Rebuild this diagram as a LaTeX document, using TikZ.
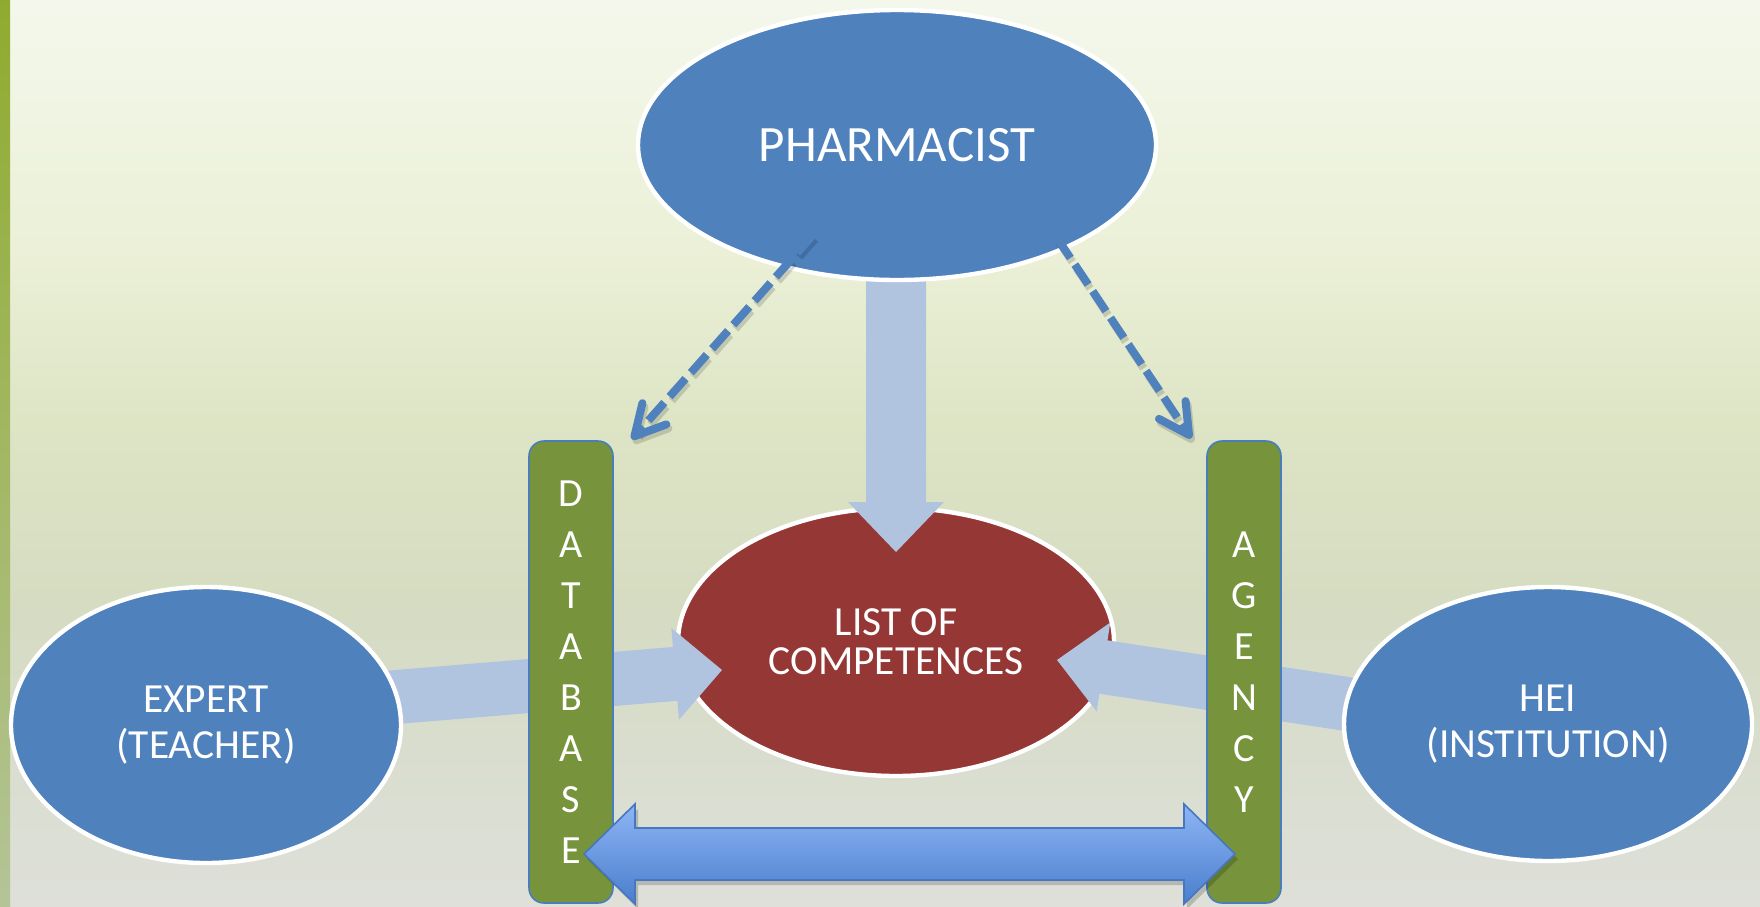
\documentclass[tikz,border=0pt]{standalone}
\usepackage{fontspec}
\setmainfont{Carlito}
\usetikzlibrary{shapes.geometric,arrows.meta,calc}
\definecolor{pblue}{HTML}{4F81BD}
\definecolor{lred}{HTML}{953735}
\definecolor{bargreen}{HTML}{77933C}
\definecolor{barline}{HTML}{4A7EBB}
\definecolor{lblue}{HTML}{B1C4DF}
\definecolor{dTop}{HTML}{8EB5F5}
\definecolor{dBot}{HTML}{4A7ECC}
\definecolor{dLine}{HTML}{4677C0}
\definecolor{bgA}{HTML}{F4F8EC}
\definecolor{bgB}{HTML}{EBF0D7}
\definecolor{bgC}{HTML}{DEE5C5}
\definecolor{bgD}{HTML}{D5DCC1}
\definecolor{bgE}{HTML}{D9DDCE}
\definecolor{bgF}{HTML}{DEE0D9}
\definecolor{stripTop}{HTML}{8FAB2F}
\definecolor{stripBot}{HTML}{B4C497}
\pgfdeclareverticalshading{bgshade}{100bp}{color(0bp)=(bgF); color(25bp)=(bgF); color(33.6bp)=(bgE); color(41.9bp)=(bgD); color(51.8bp)=(bgC); color(61.2bp)=(bgB); color(75bp)=(bgA); color(100bp)=(bgA)}
\pgfdeclarelayer{bgl}
\pgfdeclarelayer{listl}
\pgfdeclarelayer{arrl}
\pgfsetlayers{bgl,listl,arrl,main}
% fat arrow: #1 style, #2 tail, #3 tip, #4 half shaft, #5 half head, #6 head length
\newcommand\fatArrowPath[6]{%
  \coordinate (fatH) at ($(#3)!#6!(#2)$);
  \fill[#1] ($(#2)!#4!90:(#3)$) -- ($(fatH)!#4!90:(#3)$) -- ($(fatH)!#5!90:(#3)$) -- (#3)
    -- ($(fatH)!#5!-90:(#3)$) -- ($(fatH)!#4!-90:(#3)$) -- ($(#2)!#4!-90:(#3)$) -- cycle;}
\newcommand\dblArrowPath[2]{(#1) -- ([shift={(51,-50)}]#1) -- ([shift={(51,-26)}]#1) -- ([shift={(-51,-26)}]#2) -- ([shift={(-51,-50)}]#2) -- (#2) -- ([shift={(-51,50)}]#2) -- ([shift={(-51,26)}]#2) -- ([shift={(51,26)}]#1) -- ([shift={(51,50)}]#1) -- cycle}
\begin{document}
\begin{tikzpicture}[x=0.5pt,y=-0.5pt,
  bub/.style={ellipse, draw=white, line width=2.2pt, fill=pblue, inner sep=0pt, text=white, align=center},
  txt/.style={font=\fontsize{20.7}{23}\selectfont},
  barbox/.style={rectangle, rounded corners=7.5pt, draw=barline, line width=0.8pt, fill=bargreen, inner sep=0pt, text=white, align=center, font=\fontsize{20}{25.5}\selectfont},
  fatfill/.style={fill=lblue},
  dashl/.style={draw=pblue, line width=4pt, dash pattern=on 12pt off 4pt, -{Straight Barb[length=15pt,width=16pt,line cap=round,line join=round]}},
  dashshadow/.style={draw=black, opacity=0.15, line width=4pt, dash pattern=on 12pt off 4pt, -{Straight Barb[length=15pt,width=16pt,line cap=round,line join=round]}}
]
\useasboundingbox (0,0) rectangle (1760,906);
\begin{pgfonlayer}{bgl}
  \fill[shading=bgshade] (0,0) rectangle (1760,906);
  \fill[top color=stripTop, bottom color=stripBot] (0,0) rectangle (10,906);
\end{pgfonlayer}

\begin{pgfonlayer}{listl}
  \node[bub, fill=lred, minimum width=218pt, minimum height=134pt, font=\fontsize{20.7}{19.5}\selectfont] (list) at (896,642) {LIST OF\\COMPETENCES};
\end{pgfonlayer}

\node[bub, minimum width=259pt, minimum height=135pt, font=\fontsize{25.5}{30}\selectfont] (pharm) at (897,145) {PHARMACIST};
\node[bub, txt, minimum width=195pt, minimum height=138pt] (expert) at (206,725) {EXPERT\\(TEACHER)};
\node[bub, txt, minimum width=204pt, minimum height=137pt] (hei) at (1548,724) {HEI\\(INSTITUTION)};

\begin{pgfonlayer}{arrl}
  \coordinate (downT) at ($(pharm.center)+(-1,125)$);
  \coordinate (downH) at ($(list.center)+(0,-90)$);
  \fatArrowPath{fatfill}{downT}{downH}{15pt}{24pt}{25pt}
  \coordinate (leftT) at ($(expert.center)+(154,-25)$);
  \coordinate (leftH) at ($(list.center)+(-174,28)$);
  \fatArrowPath{fatfill}{leftT}{leftH}{13.5pt}{23pt}{23.5pt}
  \coordinate (rightT) at ($(hei.center)+(-148,-12)$);
  \coordinate (rightH) at ($(list.center)+(161,18)$);
  \fatArrowPath{fatfill}{rightT}{rightH}{13.5pt}{22.5pt}{23.5pt}
\end{pgfonlayer}

\node[barbox, minimum width=42pt, minimum height=231pt] (db) at (571,672) {D\\A\\T\\A\\B\\A\\S\\E};
\node[barbox, minimum width=37pt, minimum height=231pt] (ag) at (1244,672) {A\\G\\E\\N\\C\\Y};

% double arrow between the bars
\coordinate (dL) at ($(db.center)+(13,182)$);
\coordinate (dR) at ($(ag.center)+(-9,182)$);
\coordinate (dLs) at ([shift={(3,5)}]dL);
\coordinate (dRs) at ([shift={(3,5)}]dR);
\fill[black, opacity=0.18] \dblArrowPath{dLs}{dRs};
\path[draw=dLine, line width=0.8pt, top color=dTop, bottom color=dBot] \dblArrowPath{dL}{dR};

% dashed arrows from pharmacist
\coordinate (d1s) at ($(pharm.center)+(-84,90)$);
\coordinate (d1e) at ($(db.north east)+(18,-1)$);
\coordinate (d2s) at ($(pharm.center)+(160,93)$);
\coordinate (d2e) at ($(ag.north west)+(-15,-2)$);
\draw[dashshadow] ([shift={(2,4)}]d1s) -- ([shift={(2,4)}]d1e);
\draw[dashshadow] ([shift={(2,4)}]d2s) -- ([shift={(2,4)}]d2e);
\draw[dashl] (d1s) -- (d1e);
\draw[dashl] (d2s) -- (d2e);
\end{tikzpicture}
\end{document}
